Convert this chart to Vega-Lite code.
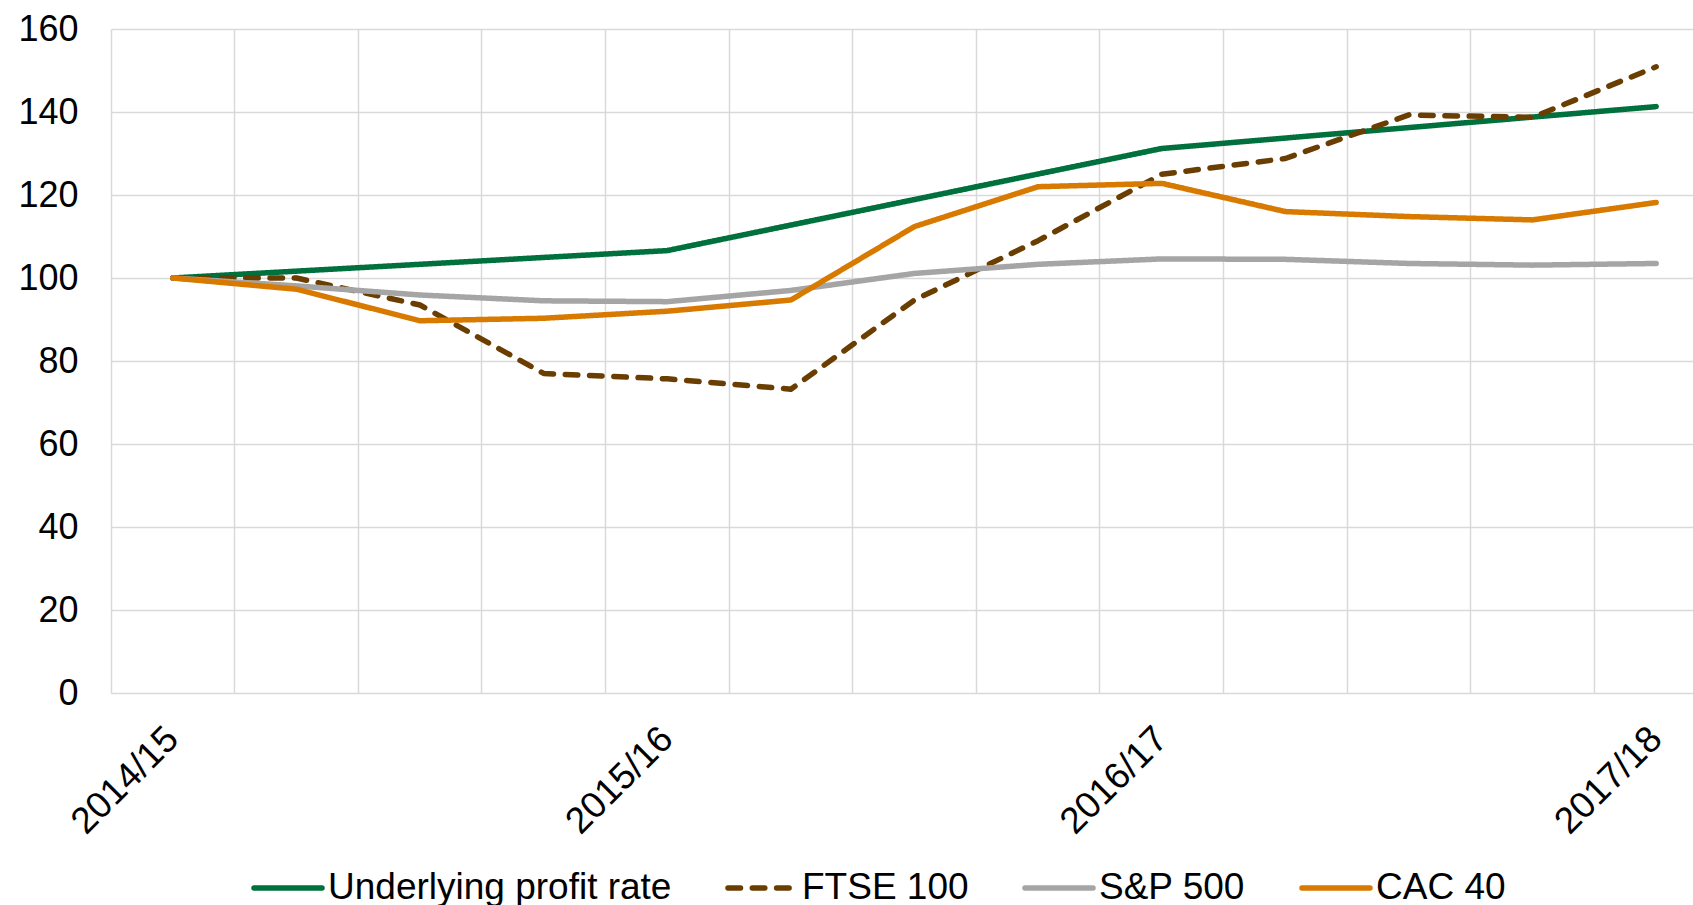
{
  "$schema": "https://vega.github.io/schema/vega-lite/v6.json",
  "autosize": {"type": "none"},
  "padding": {"left": 111, "top": 29, "right": 0, "bottom": 212},
  "width": 1582,
  "height": 664,
  "config": {"view": {"stroke": null}, "font": "Liberation Sans"},
  "data": {
    "values": [
      {"series": "Underlying profit rate", "period": "2014/15", "value": 100},
      {"series": "Underlying profit rate", "period": "2015/16", "value": 106.6},
      {"series": "Underlying profit rate", "period": "2016/17", "value": 131.2},
      {"series": "Underlying profit rate", "period": "2017/18", "value": 141.3},
      {"series": "FTSE 100", "period": "2014/15", "value": 100},
      {"series": "FTSE 100", "period": "2014/15 Q2", "value": 100},
      {"series": "FTSE 100", "period": "2014/15 Q3", "value": 93.5},
      {"series": "FTSE 100", "period": "2014/15 Q4", "value": 77.0},
      {"series": "FTSE 100", "period": "2015/16", "value": 75.7},
      {"series": "FTSE 100", "period": "2015/16 Q2", "value": 73.2},
      {"series": "FTSE 100", "period": "2015/16 Q3", "value": 94.7},
      {"series": "FTSE 100", "period": "2015/16 Q4", "value": 109.0},
      {"series": "FTSE 100", "period": "2016/17", "value": 125.0},
      {"series": "FTSE 100", "period": "2016/17 Q2", "value": 128.8},
      {"series": "FTSE 100", "period": "2016/17 Q3", "value": 139.3},
      {"series": "FTSE 100", "period": "2016/17 Q4", "value": 138.7},
      {"series": "FTSE 100", "period": "2017/18", "value": 150.9},
      {"series": "S&P 500", "period": "2014/15", "value": 100},
      {"series": "S&P 500", "period": "2014/15 Q2", "value": 98.1},
      {"series": "S&P 500", "period": "2014/15 Q3", "value": 95.9},
      {"series": "S&P 500", "period": "2014/15 Q4", "value": 94.5},
      {"series": "S&P 500", "period": "2015/16", "value": 94.3},
      {"series": "S&P 500", "period": "2015/16 Q2", "value": 97.0},
      {"series": "S&P 500", "period": "2015/16 Q3", "value": 101.1},
      {"series": "S&P 500", "period": "2015/16 Q4", "value": 103.3},
      {"series": "S&P 500", "period": "2016/17", "value": 104.6},
      {"series": "S&P 500", "period": "2016/17 Q2", "value": 104.5},
      {"series": "S&P 500", "period": "2016/17 Q3", "value": 103.5},
      {"series": "S&P 500", "period": "2016/17 Q4", "value": 103.1},
      {"series": "S&P 500", "period": "2017/18", "value": 103.5},
      {"series": "CAC 40", "period": "2014/15", "value": 100},
      {"series": "CAC 40", "period": "2014/15 Q2", "value": 97.3},
      {"series": "CAC 40", "period": "2014/15 Q3", "value": 89.7},
      {"series": "CAC 40", "period": "2014/15 Q4", "value": 90.3},
      {"series": "CAC 40", "period": "2015/16", "value": 92.0},
      {"series": "CAC 40", "period": "2015/16 Q2", "value": 94.7},
      {"series": "CAC 40", "period": "2015/16 Q3", "value": 112.4},
      {"series": "CAC 40", "period": "2015/16 Q4", "value": 122.0},
      {"series": "CAC 40", "period": "2016/17", "value": 122.8},
      {"series": "CAC 40", "period": "2016/17 Q2", "value": 116.0},
      {"series": "CAC 40", "period": "2016/17 Q3", "value": 114.8},
      {"series": "CAC 40", "period": "2016/17 Q4", "value": 114.0},
      {"series": "CAC 40", "period": "2017/18", "value": 118.2}
    ]
  },
  "mark": {"type": "line", "strokeWidth": 5.5, "strokeCap": "round", "strokeJoin": "round"},
  "encoding": {
    "x": {
      "field": "period",
      "type": "ordinal",
      "scale": {
        "type": "band",
        "domain": ["2014/15", "2014/15 Q2", "2014/15 Q3", "2014/15 Q4", "2015/16", "2015/16 Q2", "2015/16 Q3", "2015/16 Q4", "2016/17", "2016/17 Q2", "2016/17 Q3", "2016/17 Q4", "2017/18"],
        "range": [0, 1607],
        "paddingInner": 0,
        "paddingOuter": 0
      },
      "axis": {
        "title": null,
        "bandPosition": 0,
        "grid": true,
        "gridColor": "#D9D9D9",
        "gridWidth": 1.5,
        "ticks": false,
        "domain": false,
        "labelAngle": -45,
        "labelAlign": "right",
        "labelBaseline": "middle",
        "labelPadding": 40,
        "labelFontSize": 37,
        "labelColor": "#000000",
        "labelOverlap": false,
        "labelExpr": "indexof(datum.label, 'Q') >= 0 ? '' : datum.label"
      }
    },
    "y": {
      "field": "value",
      "type": "quantitative",
      "scale": {"domain": [0, 160], "nice": false},
      "axis": {
        "title": null,
        "values": [0, 20, 40, 60, 80, 100, 120, 140, 160],
        "grid": true,
        "gridColor": "#D9D9D9",
        "gridWidth": 1.5,
        "ticks": false,
        "domain": false,
        "labelPadding": 33,
        "labelFontSize": 36,
        "labelColor": "#000000"
      }
    },
    "color": {
      "field": "series",
      "type": "nominal",
      "scale": {
        "domain": ["Underlying profit rate", "FTSE 100", "S&P 500", "CAC 40"],
        "range": ["#00703C", "#6A3D00", "#A5A5A5", "#D87A00"]
      },
      "legend": {
        "title": null,
        "orient": "none",
        "legendX": 140,
        "legendY": 822,
        "direction": "horizontal",
        "columns": 4,
        "columnPadding": 45,
        "padding": 0,
        "symbolType": "stroke",
        "symbolSize": 4624,
        "symbolStrokeWidth": 5.5,
        "labelFontSize": 37,
        "labelColor": "#000000",
        "labelOffset": 3,
        "labelLimit": 0,
        "encode": {"symbols": {"update": {"strokeCap": {"value": "round"}}}}
      }
    },
    "strokeDash": {
      "field": "series",
      "type": "nominal",
      "scale": {
        "domain": ["Underlying profit rate", "FTSE 100", "S&P 500", "CAC 40"],
        "range": [[1, 0], [12.5, 11.8], [1, 0], [1, 0]]
      },
      "legend": {
        "title": null,
        "orient": "none",
        "legendX": 140,
        "legendY": 822,
        "direction": "horizontal",
        "columns": 4,
        "columnPadding": 45,
        "padding": 0,
        "symbolType": "stroke",
        "symbolSize": 4624,
        "symbolStrokeWidth": 5.5,
        "labelFontSize": 37,
        "labelColor": "#000000",
        "labelOffset": 3,
        "labelLimit": 0,
        "encode": {"symbols": {"update": {"strokeCap": {"value": "round"}}}}
      }
    }
  }
}
